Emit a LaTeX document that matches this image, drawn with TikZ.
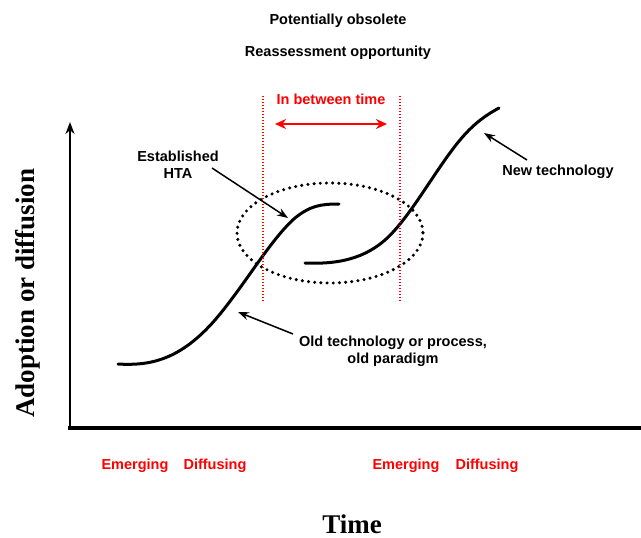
\documentclass[tikz,border=0pt]{standalone}
\usepackage{fontspec}
\setmainfont{Liberation Sans}
\newfontfamily\axisfont{Liberation Serif}
\usepackage{tikz}
\usetikzlibrary{calc, arrows.meta}

\tikzset{
	lbl/.style={font=\bfseries\fontsize{14.5}{17}\selectfont, align=center},
	redlbl/.style={lbl, text=red},
	axislbl/.style={font=\axisfont\bfseries\fontsize{27}{30}\selectfont},
	curve/.style={line width=3pt, line cap=round},
	pointer/.style={line width=1.5pt, -{Stealth[length=11pt,width=8pt]}},
	gap/.style={red, line width=1.4pt, dash pattern=on 1.2pt off 1.8pt},
}

\begin{document}
\begin{tikzpicture}[x=1pt, y=-1pt]
			\useasboundingbox (0,0) rectangle (641,538);
			% axes
			\coordinate (O) at (70,429);
			\coordinate (ytop) at (70,122);
			\coordinate (xend) at (641,428);
			\draw[line width=2.6pt, -{Stealth[length=12pt,width=9pt]}] (O) -- (ytop);
			\draw[line width=3.2pt] (68,428) -- (xend);
			\node[axislbl, rotate=90] (ylab) at (28,293) {Adoption or diffusion};
			\node[axislbl] (xlab) at (352,524) {Time};

			% the two S-curves
			\coordinate (old0) at (118,364);
			\coordinate (old1) at (215,320);
			\coordinate (old2) at (295,218);
			\coordinate (old3) at (339,204);
			\draw[curve] (old0) .. controls (150,366) and (180,360) .. (old1)
				.. controls (245,285) and (270,240) .. (old2)
				.. controls (310,206) and (320,204) .. (old3);
			\coordinate (new0) at (305,263);
			\coordinate (new1) at (385,240);
			\coordinate (new2) at (460,140);
			\coordinate (new3) at (499,108);
			\draw[curve] (new0) .. controls (330,264) and (360,262) .. (new1)
				.. controls (410,218) and (435,170) .. (new2)
				.. controls (475,122) and (488,114) .. (new3);

			% overlap region
			\draw[line width=3.4pt, line cap=round, dash pattern=on 0pt off 6.2pt] (330,233) ellipse (93 and 50);
			\coordinate (ga) at (263,96);
			\coordinate (gb) at (263,302);
			\coordinate (gc) at (400,96);
			\coordinate (gd) at (400,302);
			\draw[gap] (ga) -- (gb);
			\draw[gap] (gc) -- (gd);
			\node[redlbl] (between) at (331,99) {In between time};
			\coordinate (ba) at (275,124);
			\coordinate (bb) at (387,124);
			\draw[red, line width=2.6pt, {Stealth[length=11pt,width=10pt]}-{Stealth[length=11pt,width=10pt]}] (ba) -- (bb);

			\node[lbl] (obs) at (338,21) {Potentially obsolete};
			\node[lbl] (reas) at (338,53) {Reassessment opportunity};

			% labels with pointers
			\node[lbl] (hta) at (178,165) {Established\\HTA};
			\coordinate (htatip) at (288,218);
			\draw[pointer] (212,168) -- (htatip);
			\node[lbl] (newtech) at (558,172) {New technology};
			\coordinate (newtip) at (484,133);
			\draw[pointer] (527,160) -- (newtip);
			\node[lbl] (oldtech) at (393,351) {Old technology or process,\\old paradigm};
			\coordinate (oldtip) at (238,312);
			\draw[pointer] (293,334) -- (oldtip);

			% phases along the time axis
			\node[redlbl] (em1) at (135,466) {Emerging};
			\node[redlbl] (di1) at (215,466) {Diffusing};
			\node[redlbl] (em2) at (406,466) {Emerging};
			\node[redlbl] (di2) at (487,466) {Diffusing};
		\end{tikzpicture}
\end{document}
